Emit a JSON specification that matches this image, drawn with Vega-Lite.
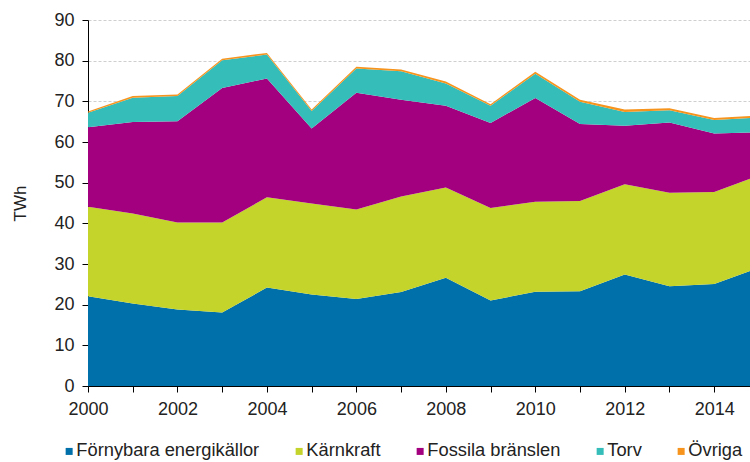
{
  "$schema": "https://vega.github.io/schema/vega-lite/v6.json",
  "width": 662,
  "height": 366,
  "autosize": {"type": "none"},
  "padding": {"left": 88, "top": 20, "right": 0, "bottom": 76},
  "background": "white",
  "config": {
    "view": {"stroke": null},
    "font": "Liberation Sans",
    "axis": {"labelFont": "Liberation Sans", "titleFont": "Liberation Sans"},
    "legend": {"labelFont": "Liberation Sans"}
  },
  "data": {"values": [
    {"year": 2000, "kalla": "Förnybara energikällor", "i": 1, "twh": 22.1},
    {"year": 2001, "kalla": "Förnybara energikällor", "i": 1, "twh": 20.3},
    {"year": 2002, "kalla": "Förnybara energikällor", "i": 1, "twh": 18.8},
    {"year": 2003, "kalla": "Förnybara energikällor", "i": 1, "twh": 18.1},
    {"year": 2004, "kalla": "Förnybara energikällor", "i": 1, "twh": 24.2},
    {"year": 2005, "kalla": "Förnybara energikällor", "i": 1, "twh": 22.5},
    {"year": 2006, "kalla": "Förnybara energikällor", "i": 1, "twh": 21.4},
    {"year": 2007, "kalla": "Förnybara energikällor", "i": 1, "twh": 23.1},
    {"year": 2008, "kalla": "Förnybara energikällor", "i": 1, "twh": 26.6},
    {"year": 2009, "kalla": "Förnybara energikällor", "i": 1, "twh": 21.0},
    {"year": 2010, "kalla": "Förnybara energikällor", "i": 1, "twh": 23.2},
    {"year": 2011, "kalla": "Förnybara energikällor", "i": 1, "twh": 23.3},
    {"year": 2012, "kalla": "Förnybara energikällor", "i": 1, "twh": 27.4},
    {"year": 2013, "kalla": "Förnybara energikällor", "i": 1, "twh": 24.5},
    {"year": 2014, "kalla": "Förnybara energikällor", "i": 1, "twh": 25.1},
    {"year": 2015, "kalla": "Förnybara energikällor", "i": 1, "twh": 29.1},
    {"year": 2000, "kalla": "Kärnkraft", "i": 2, "twh": 22.0},
    {"year": 2001, "kalla": "Kärnkraft", "i": 2, "twh": 22.1},
    {"year": 2002, "kalla": "Kärnkraft", "i": 2, "twh": 21.4},
    {"year": 2003, "kalla": "Kärnkraft", "i": 2, "twh": 22.1},
    {"year": 2004, "kalla": "Kärnkraft", "i": 2, "twh": 22.2},
    {"year": 2005, "kalla": "Kärnkraft", "i": 2, "twh": 22.4},
    {"year": 2006, "kalla": "Kärnkraft", "i": 2, "twh": 22.0},
    {"year": 2007, "kalla": "Kärnkraft", "i": 2, "twh": 23.5},
    {"year": 2008, "kalla": "Kärnkraft", "i": 2, "twh": 22.2},
    {"year": 2009, "kalla": "Kärnkraft", "i": 2, "twh": 22.8},
    {"year": 2010, "kalla": "Kärnkraft", "i": 2, "twh": 22.1},
    {"year": 2011, "kalla": "Kärnkraft", "i": 2, "twh": 22.2},
    {"year": 2012, "kalla": "Kärnkraft", "i": 2, "twh": 22.2},
    {"year": 2013, "kalla": "Kärnkraft", "i": 2, "twh": 23.0},
    {"year": 2014, "kalla": "Kärnkraft", "i": 2, "twh": 22.6},
    {"year": 2015, "kalla": "Kärnkraft", "i": 2, "twh": 22.7},
    {"year": 2000, "kalla": "Fossila bränslen", "i": 3, "twh": 19.5},
    {"year": 2001, "kalla": "Fossila bränslen", "i": 3, "twh": 22.5},
    {"year": 2002, "kalla": "Fossila bränslen", "i": 3, "twh": 24.9},
    {"year": 2003, "kalla": "Fossila bränslen", "i": 3, "twh": 33.1},
    {"year": 2004, "kalla": "Fossila bränslen", "i": 3, "twh": 29.2},
    {"year": 2005, "kalla": "Fossila bränslen", "i": 3, "twh": 18.4},
    {"year": 2006, "kalla": "Fossila bränslen", "i": 3, "twh": 28.7},
    {"year": 2007, "kalla": "Fossila bränslen", "i": 3, "twh": 23.8},
    {"year": 2008, "kalla": "Fossila bränslen", "i": 3, "twh": 20.1},
    {"year": 2009, "kalla": "Fossila bränslen", "i": 3, "twh": 20.9},
    {"year": 2010, "kalla": "Fossila bränslen", "i": 3, "twh": 25.5},
    {"year": 2011, "kalla": "Fossila bränslen", "i": 3, "twh": 18.9},
    {"year": 2012, "kalla": "Fossila bränslen", "i": 3, "twh": 14.4},
    {"year": 2013, "kalla": "Fossila bränslen", "i": 3, "twh": 17.3},
    {"year": 2014, "kalla": "Fossila bränslen", "i": 3, "twh": 14.4},
    {"year": 2015, "kalla": "Fossila bränslen", "i": 3, "twh": 10.6},
    {"year": 2000, "kalla": "Torv", "i": 4, "twh": 3.6},
    {"year": 2001, "kalla": "Torv", "i": 4, "twh": 6.0},
    {"year": 2002, "kalla": "Torv", "i": 4, "twh": 6.2},
    {"year": 2003, "kalla": "Torv", "i": 4, "twh": 6.8},
    {"year": 2004, "kalla": "Torv", "i": 4, "twh": 5.9},
    {"year": 2005, "kalla": "Torv", "i": 4, "twh": 4.3},
    {"year": 2006, "kalla": "Torv", "i": 4, "twh": 6.0},
    {"year": 2007, "kalla": "Torv", "i": 4, "twh": 7.0},
    {"year": 2008, "kalla": "Torv", "i": 4, "twh": 5.5},
    {"year": 2009, "kalla": "Torv", "i": 4, "twh": 4.2},
    {"year": 2010, "kalla": "Torv", "i": 4, "twh": 6.0},
    {"year": 2011, "kalla": "Torv", "i": 4, "twh": 5.5},
    {"year": 2012, "kalla": "Torv", "i": 4, "twh": 3.4},
    {"year": 2013, "kalla": "Torv", "i": 4, "twh": 3.0},
    {"year": 2014, "kalla": "Torv", "i": 4, "twh": 3.3},
    {"year": 2015, "kalla": "Torv", "i": 4, "twh": 3.6},
    {"year": 2000, "kalla": "Övriga", "i": 5, "twh": 0.3},
    {"year": 2001, "kalla": "Övriga", "i": 5, "twh": 0.4},
    {"year": 2002, "kalla": "Övriga", "i": 5, "twh": 0.4},
    {"year": 2003, "kalla": "Övriga", "i": 5, "twh": 0.4},
    {"year": 2004, "kalla": "Övriga", "i": 5, "twh": 0.4},
    {"year": 2005, "kalla": "Övriga", "i": 5, "twh": 0.4},
    {"year": 2006, "kalla": "Övriga", "i": 5, "twh": 0.4},
    {"year": 2007, "kalla": "Övriga", "i": 5, "twh": 0.4},
    {"year": 2008, "kalla": "Övriga", "i": 5, "twh": 0.5},
    {"year": 2009, "kalla": "Övriga", "i": 5, "twh": 0.4},
    {"year": 2010, "kalla": "Övriga", "i": 5, "twh": 0.5},
    {"year": 2011, "kalla": "Övriga", "i": 5, "twh": 0.5},
    {"year": 2012, "kalla": "Övriga", "i": 5, "twh": 0.6},
    {"year": 2013, "kalla": "Övriga", "i": 5, "twh": 0.5},
    {"year": 2014, "kalla": "Övriga", "i": 5, "twh": 0.5},
    {"year": 2015, "kalla": "Övriga", "i": 5, "twh": 0.5}
  ]},
  "mark": {"type": "area", "clip": true, "interpolate": "linear"},
  "encoding": {
    "x": {
      "field": "year",
      "type": "quantitative",
      "scale": {"domain": [2000, 2014.8], "nice": false, "zero": false},
      "axis": {
        "title": null,
        "values": [2000, 2001, 2002, 2003, 2004, 2005, 2006, 2007, 2008, 2009, 2010, 2011, 2012, 2013, 2014],
        "format": "d",
        "labelExpr": "datum.value % 2 == 0 ? datum.label : ''",
        "grid": false,
        "domainColor": "#000000",
        "tickColor": "#000000",
        "tickSize": 6,
        "labelFontSize": 18,
        "labelColor": "#222222",
        "labelPadding": 8,
        "labelFlush": false,
        "labelOverlap": false
      }
    },
    "y": {
      "field": "twh",
      "type": "quantitative",
      "stack": "zero",
      "scale": {"domain": [0, 90], "nice": false},
      "axis": {
        "title": "TWh",
        "titleFontSize": 17,
        "titleFontWeight": "normal",
        "titleColor": "#222222",
        "titlePadding": 24,
        "values": [0, 10, 20, 30, 40, 50, 60, 70, 80, 90],
        "grid": true,
        "gridColor": "#cfcfcf",
        "gridDash": [3, 2],
        "domainColor": "#000000",
        "tickColor": "#000000",
        "tickSize": 6,
        "labelFontSize": 18,
        "labelColor": "#222222",
        "labelPadding": 8
      }
    },
    "color": {
      "field": "kalla",
      "type": "nominal",
      "scale": {
        "domain": ["Förnybara energikällor", "Kärnkraft", "Fossila bränslen", "Torv", "Övriga"],
        "range": ["#0070aa", "#c4d42b", "#a3007f", "#35bdb9", "#f7941d"]
      },
      "legend": {
        "title": null,
        "orient": "none",
        "direction": "horizontal",
        "legendX": -28,
        "legendY": 422,
        "padding": 0,
        "symbolType": "square",
        "symbolSize": 49,
        "symbolStrokeWidth": 0,
        "labelFontSize": 18.3,
        "labelLimit": 0,
        "labelColor": "#222222",
        "labelOffset": -2,
        "columnPadding": 30
      }
    },
    "order": {"field": "i", "type": "quantitative", "sort": "ascending"}
  }
}
